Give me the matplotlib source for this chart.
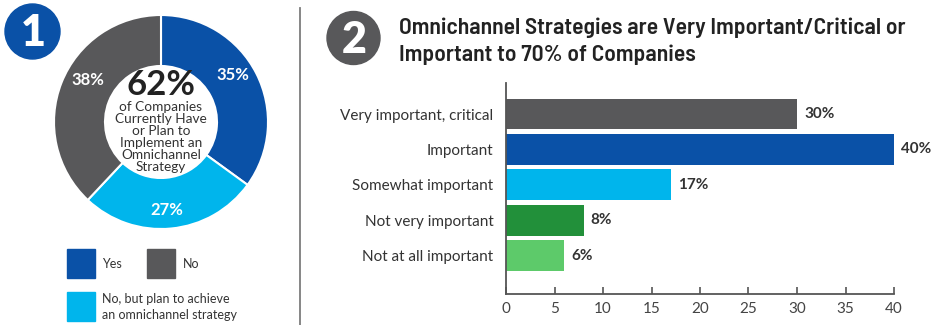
import matplotlib
matplotlib.use("Agg")
import matplotlib.pyplot as plt
from matplotlib.patches import Circle, Rectangle

# ---- data -------------------------------------------------------------
donut_labels = ["Yes", "No, but plan to achieve an omnichannel strategy", "No"]
donut_values = [35, 27, 38]
headline_pct = "62%"

categories = ["Very important, critical", "Important", "Somewhat important",
              "Not very important", "Not at all important"]
importance = [30, 40, 17, 8, 6]
x_ticks = [0, 5, 10, 15, 20, 25, 30, 35, 40]

# ---- styling ----------------------------------------------------------
GRAY = "#58585a"
BLUE = "#0a51a7"
LIGHT_BLUE = "#00b5ec"
DARK_GREEN = "#22903a"
LIGHT_GREEN = "#5dca6a"
TEXT = "#333333"

donut_colors = [BLUE, LIGHT_BLUE, GRAY]
bar_colors = [GRAY, BLUE, LIGHT_BLUE, DARK_GREEN, LIGHT_GREEN]

BODY = ["Lato", "DejaVu Sans"]
TITLE = ["Barlow Semi Condensed", "DejaVu Sans"]
plt.rcParams["font.family"] = BODY

W, H = 939, 325
fig = plt.figure(figsize=(W / 100, H / 100), dpi=100)


def box(left, top, width, height):
    """Pixel box (from the top-left corner) to figure fractions."""
    return [left / W, (H - top - height) / H, width / W, height / H]


# ---- overlay in pixel units for badges, divider and legend ------------
ov = fig.add_axes([0, 0, 1, 1])
ov.set_xlim(0, W)
ov.set_ylim(H, 0)
ov.axis("off")

ov.add_patch(Circle((32.5, 31.5), 27.5, color=BLUE))
ov.text(33, 33, "1", color="white", fontsize=31, fontweight="heavy",
        ha="center", va="center")
ov.add_patch(Circle((353.5, 38), 26.5, color=GRAY))
ov.text(354, 40, "2", color="white", fontsize=31, fontweight="heavy",
        ha="center", va="center")

ov.plot([300, 300], [8, 325], color="#7d7d7d", lw=1.3)

# legend for the donut
ov.add_patch(Rectangle((67, 249), 28, 29, color=BLUE))
ov.text(102, 264, "Yes", fontsize=9, color=TEXT, va="center")
ov.add_patch(Rectangle((147, 249), 28, 29, color=GRAY))
ov.text(183, 264, "No", fontsize=9, color=TEXT, va="center")
ov.add_patch(Rectangle((67, 292), 28, 29, color=LIGHT_BLUE))
ov.text(102, 299, "No, but plan to achieve", fontsize=9, color=TEXT, va="center")
ov.text(102, 315, "an omnichannel strategy", fontsize=9, color=TEXT, va="center")

# title of the bar chart
ov.text(399, 28, "Omnichannel Strategies are Very Important/Critical or",
        family=TITLE, fontsize=17, fontweight="semibold", color="#222222",
        va="center")
ov.text(399, 55, "Important to 70% of Companies",
        family=TITLE, fontsize=17, fontweight="semibold", color="#222222",
        va="center")

# ---- donut ------------------------------------------------------------
R_OUT, R_IN = 107, 56
ax_d = fig.add_axes(box(161 - R_OUT, 122 - R_OUT, 2 * R_OUT, 2 * R_OUT))
ax_d.pie(donut_values, colors=donut_colors, startangle=90, counterclock=False,
         radius=1, wedgeprops=dict(width=1 - R_IN / R_OUT, edgecolor="white",
                                   linewidth=1.5))
ax_d.set_xlim(-1, 1)
ax_d.set_ylim(-1, 1)
ax_d.set_aspect("auto")

label_pos = [(0.67, 0.44), (0.05, -0.82), (-0.68, 0.39)]
for v, (lx, ly) in zip(donut_values, label_pos):
    ax_d.text(lx, ly, f"{v}%", color="white", fontsize=12,
              fontweight="bold", ha="center", va="center")

ax_d.text(0, 0.35, headline_pct, fontsize=25, fontweight="bold",
          color="#222222", ha="center", va="center")
center_lines = ["of Companies", "Currently Have", "or Plan to",
                "Implement an", "Omnichannel", "Strategy"]
for i, line in enumerate(center_lines):
    ax_d.text(0, (122 - (107 + 12 * i)) / R_OUT, line, fontsize=9.8,
              color=TEXT, ha="center", va="center")

# ---- horizontal bars ---------------------------------------------------
ax = fig.add_axes(box(506, 83, 388, 294 - 83))
ypos = list(range(len(categories)))
ax.barh(ypos, importance, height=0.875, color=bar_colors)
ax.set_xlim(0, 40)
ax.set_ylim(5.085, -0.876)
ax.set_yticks(ypos)
ax.set_yticklabels(categories)
ax.set_xticks(x_ticks)
ax.tick_params(axis="y", length=0, pad=9, labelsize=11, labelcolor=TEXT)
ax.tick_params(axis="x", direction="in", length=5, width=1.2, color="#555555",
               pad=6, labelsize=11, labelcolor="#444444")
for side in ("top", "right"):
    ax.spines[side].set_visible(False)
for side in ("left", "bottom"):
    ax.spines[side].set_color("#555555")
    ax.spines[side].set_linewidth(1.3)
ax.patch.set_alpha(0)

for y, v in zip(ypos, importance):
    ax.annotate(f"{v}%", (v, y), xytext=(7, 0), textcoords="offset pixels",
                ha="left", va="center", fontsize=11, fontweight="bold",
                color=TEXT)

fig.savefig("out.png", dpi=100)
